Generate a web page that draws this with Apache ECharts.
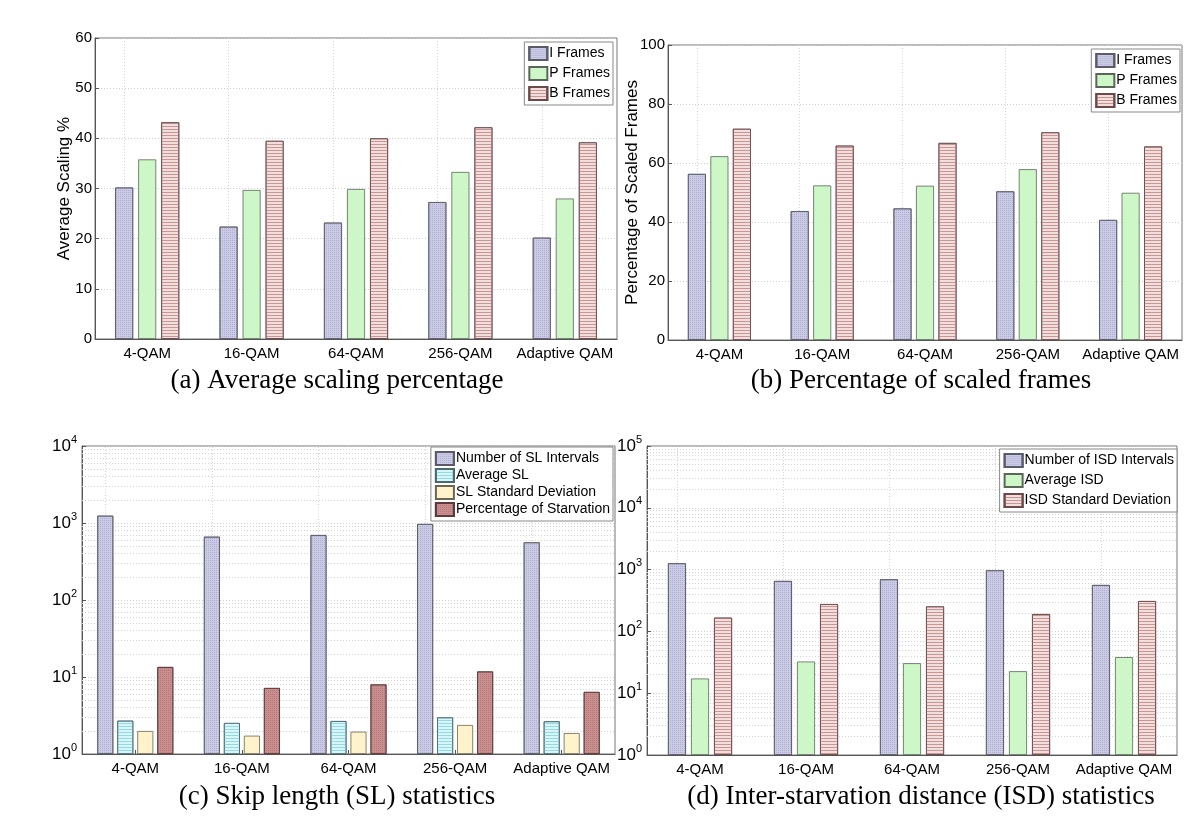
<!DOCTYPE html>
<html>
<head>
<meta charset="utf-8">
<script src="https://cdn.jsdelivr.net/npm/echarts@6/dist/echarts.min.js"></script>
<style>
html,body{margin:0;padding:0;background:#fff;}
#c{width:1200px;height:831px;}
</style>
</head>
<body>
<div id="c"></div>
<script>
const categories = ['4-QAM', '16-QAM', '64-QAM', '256-QAM', 'Adaptive QAM'];

// (a) Average scaling percentage
const aI = [30.2, 22.4, 23.2, 27.3, 20.2];
const aP = [35.8, 29.7, 29.9, 33.3, 28.0];
const aB = [43.2, 39.5, 40.0, 42.2, 39.2];

// (b) Percentage of scaled frames
const bI = [56.3, 43.7, 44.6, 50.4, 40.7];
const bP = [62.3, 52.4, 52.3, 57.9, 49.9];
const bB = [71.6, 65.9, 66.8, 70.4, 65.6];

// (c) Skip length statistics
const cNum = [1245, 664, 698, 971, 561];
const cAvg = [2.71, 2.53, 2.68, 2.99, 2.66];
const cStd = [1.99, 1.73, 1.95, 2.38, 1.87];
const cStarv = [13.5, 7.2, 8.0, 11.8, 6.4];

// (d) Inter-starvation distance statistics
const dNum = [1267, 655, 697, 975, 564];
const dAvg = [17.3, 32.6, 30.6, 22.7, 38.4];
const dStd = [167, 277, 254, 191, 310];

const captions = [
  '(a) Average scaling percentage',
  '(b) Percentage of scaled frames',
  '(c) Skip length (SL) statistics',
  '(d) Inter-starvation distance (ISD) statistics'
];

const SANS = 'Liberation Sans, Arial, sans-serif';
const SERIF = 'Liberation Serif, DejaVu Serif, serif';

const styles = {
  I: { color: '#cbcbe6', borderColor: '#5a5a6a', borderWidth: 0.8,
       decal: { symbol: 'rect', symbolSize: 1, dashArrayX: [1, 1], dashArrayY: [1, 1], color: 'rgba(140,140,185,0.45)' } },
  P: { color: '#cdf7c6', borderColor: '#5a665a', borderWidth: 0.8 },
  B: { color: '#f3dede', borderColor: '#6a4a4a', borderWidth: 0.8,
       decal: { symbol: 'rect', symbolSize: 1, dashArrayX: [1, 0], dashArrayY: [1, 2], color: '#c99696' } },
  Avg: { color: '#d6f6fa', borderColor: '#4a6a6e', borderWidth: 0.8,
       decal: { symbol: 'rect', symbolSize: 1, dashArrayX: [1, 0], dashArrayY: [1, 2], color: '#97d9e3' } },
  Std: { color: '#fff3cb', borderColor: '#6a6650', borderWidth: 0.8 },
  Starv: { color: '#c98f8f', borderColor: '#5a3a3a', borderWidth: 0.8,
       decal: { symbol: 'rect', symbolSize: 1, dashArrayX: [1, 1], dashArrayY: [1, 1], color: 'rgba(160,90,90,0.45)' } }
};

const grids = [
  { left: 95, top: 38, width: 522, height: 301 },
  { left: 668, top: 45, width: 514, height: 295 },
  { left: 82, top: 446, width: 533, height: 308 },
  { left: 647, top: 446, width: 530, height: 309 }
].map(g => Object.assign({ show: true, borderColor: '#777', borderWidth: 1, backgroundColor: '#fff' }, g));

function xAx(i) {
  return {
    type: 'category', gridIndex: i, data: categories,
    axisLine: { lineStyle: { color: '#555' } },
    axisTick: { show: true, inside: true, alignWithLabel: true, length: 4, lineStyle: { color: '#555' } },
    axisLabel: { color: '#000', fontFamily: SANS, fontSize: 15, margin: 7, interval: 0 },
    splitLine: { show: false }
  };
}
const gridLine = { color: '#cfcfcf', type: [1, 2], width: 1 };

function linAx(i, max, interval, name, gap) {
  return {
    type: 'value', gridIndex: i, min: 0, max: max, interval: interval,
    name: name, nameLocation: 'middle', nameGap: gap, nameMoveOverlap: false,
    nameTextStyle: { color: '#000', fontFamily: SANS, fontSize: 17 },
    axisLine: { show: true, lineStyle: { color: '#555' } },
    axisTick: { show: true, inside: true, length: 4, lineStyle: { color: '#555' } },
    axisLabel: { color: '#000', fontFamily: SANS, fontSize: 15, margin: 3 },
    splitLine: { show: true, lineStyle: gridLine }
  };
}
function logAx(i, max) {
  return {
    type: 'log', logBase: 10, gridIndex: i, min: 1, max: max,
    axisLine: { show: true, lineStyle: { color: '#555' } },
    axisTick: { show: true, inside: true, length: 4, lineStyle: { color: '#555' } },
    axisLabel: {
      color: '#000', margin: 5,
      formatter: v => '{b|10}{s|' + Math.round(Math.log10(v)) + '}',
      rich: {
        b: { fontFamily: SANS, fontSize: 17, color: '#000' },
        s: { fontFamily: SANS, fontSize: 11, color: '#000', padding: [0, 0, 13, 0] }
      }
    },
    splitLine: { show: true, lineStyle: gridLine }
  };
}

function gridMarks(maxExp) {
  const data = categories.map(c => ({ xAxis: c }));
  if (maxExp) {
    for (let e = 0; e < maxExp; e++) {
      for (let k = 2; k <= 9; k++) data.push({ yAxis: k * Math.pow(10, e) });
    }
  }
  return {
    silent: true, symbol: ['none', 'none'], label: { show: false }, z: 1,
    lineStyle: { color: '#d4d4d4', type: [1, 2], width: 1 },
    emphasis: { disabled: true },
    data: data
  };
}

function bar(name, data, i, st, bw, gap, marks) {
  const s = {
    type: 'bar', name: name, data: data, xAxisIndex: i, yAxisIndex: i,
    barWidth: bw, barGap: gap, itemStyle: st, z: 2,
    emphasis: { disabled: true }
  };
  if (marks) s.markLine = marks;
  return s;
}

function legend(names, right, top, fs, gap) {
  return {
    data: names, orient: 'vertical', right: right, top: top,
    backgroundColor: '#fff', borderColor: '#888', borderWidth: 1,
    padding: [4, 3, 4, 4], itemGap: gap, itemWidth: 18, itemHeight: 13, icon: 'rect',
    textStyle: { color: '#000', fontFamily: SANS, fontSize: fs, padding: [0, 0, 0, -3] },
    selectedMode: false
  };
}

function caption(text, x, y) {
  return { type: 'text', x: x, y: y, style: { text: text, font: '27px ' + SERIF, fill: '#000', textAlign: 'center', textVerticalAlign: 'middle' } };
}

const option = {
  animation: false,
  grid: grids,
  xAxis: [xAx(0), xAx(1), xAx(2), xAx(3)],
  yAxis: [
    linAx(0, 60, 10, 'Average Scaling %', 22),
    linAx(1, 100, 20, 'Percentage of Scaled Frames', 27),
    logAx(2, 10000),
    logAx(3, 100000)
  ],
  legend: [
    legend(['I Frames', 'P Frames', 'B Frames'], 587, 42, 14, 5),
    legend(['I Frames', 'P Frames', 'B Frames'], 20, 49, 14, 5),
    legend(['Number of SL Intervals', 'Average SL', 'SL Standard Deviation', 'Percentage of Starvation'], 587, 447, 14, 2),
    legend(['Number of ISD Intervals', 'Average ISD', 'ISD Standard Deviation'], 23, 449, 14, 5)
  ],
  series: [
    bar('I Frames', aI, 0, styles.I, 18, '28%', gridMarks(0)),
    bar('P Frames', aP, 0, styles.P, 18, '28%'),
    bar('B Frames', aB, 0, styles.B, 18, '28%'),
    bar('I Frames', bI, 1, styles.I, 18, '25%', gridMarks(0)),
    bar('P Frames', bP, 1, styles.P, 18, '25%'),
    bar('B Frames', bB, 1, styles.B, 18, '25%'),
    bar('Number of SL Intervals', cNum, 2, styles.I, 16, '25%', gridMarks(4)),
    bar('Average SL', cAvg, 2, styles.Avg, 16, '25%'),
    bar('SL Standard Deviation', cStd, 2, styles.Std, 16, '25%'),
    bar('Percentage of Starvation', cStarv, 2, styles.Starv, 16, '25%'),
    bar('Number of ISD Intervals', dNum, 3, styles.I, 18, '28%', gridMarks(5)),
    bar('Average ISD', dAvg, 3, styles.P, 18, '28%'),
    bar('ISD Standard Deviation', dStd, 3, styles.B, 18, '28%')
  ],
  graphic: [
    caption(captions[0], 337, 381),
    caption(captions[1], 921, 381),
    caption(captions[2], 337, 797),
    caption(captions[3], 921, 797)
  ]
};

const chart = echarts.init(document.getElementById('c'), null, { renderer: 'canvas' });
chart.setOption(option);
</script>
</body>
</html>
